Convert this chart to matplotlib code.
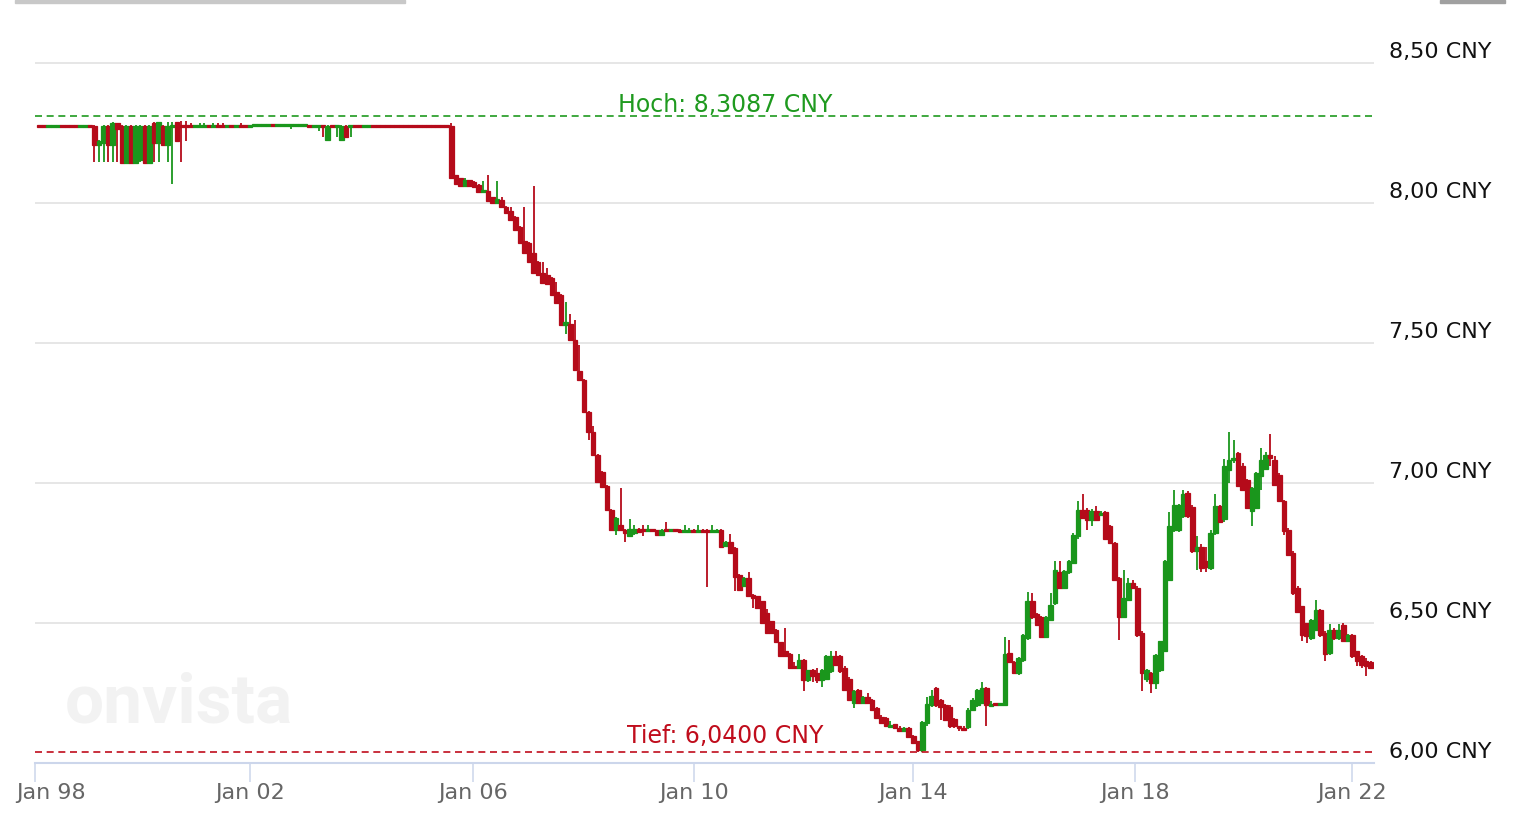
import numpy as np
import matplotlib
matplotlib.use("Agg")
import matplotlib.pyplot as plt
from matplotlib.patches import Rectangle
from matplotlib.transforms import ScaledTranslation

# monthly USD/CNY candles, Jan 1998 .. Apr 2022 (one row per year)
opens = [
    [8.2755, 8.2755, 8.2745, 8.2745, 8.2745, 8.2755, 8.2755, 8.2755, 8.2755, 8.2745, 8.2745, 8.2755],  # 1998
    [8.275, 8.205, 8.214, 8.275, 8.205, 8.284, 8.275, 8.143, 8.275, 8.143, 8.154, 8.275],  # 1999
    [8.143, 8.286, 8.214, 8.275, 8.205, 8.274, 8.289, 8.2755, 8.2755, 8.2755, 8.2745, 8.2745],  # 2000
    [8.2745, 8.2755, 8.2745, 8.2755, 8.2755, 8.2745, 8.2755, 8.2745, 8.2755, 8.2755, 8.2745, 8.275],  # 2001
    [8.275, 8.275, 8.275, 8.28, 8.275, 8.275, 8.275, 8.275, 8.275, 8.275, 8.275, 8.2755],  # 2002
    [8.2745, 8.2745, 8.2755, 8.225, 8.2755, 8.2745, 8.225, 8.275, 8.2745, 8.2755, 8.2755, 8.2745],  # 2003
    [8.2745, 8.2755, 8.2755, 8.2755, 8.2755, 8.2755, 8.2755, 8.2755, 8.2755, 8.2755, 8.2755, 8.2755],  # 2004
    [8.2755, 8.2755, 8.2755, 8.2755, 8.2755, 8.2755, 8.275, 8.10, 8.089, 8.061, 8.08, 8.075],  # 2005
    [8.064, 8.04, 8.043, 8.02, 8.0, 8.01, 7.986, 7.97, 7.95, 7.915, 7.864, 7.857],  # 2006
    [7.82, 7.789, 7.75, 7.743, 7.73, 7.68, 7.671, 7.564, 7.568, 7.511, 7.40, 7.368],  # 2007
    [7.254, 7.182, 7.10, 7.04, 6.99, 6.904, 6.832, 6.85, 6.83, 6.81, 6.82, 6.835],  # 2008
    [6.832, 6.828, 6.832, 6.83, 6.814, 6.832, 6.828, 6.832, 6.832, 6.826, 6.826, 6.832],  # 2009
    [6.826, 6.832, 6.832, 6.826, 6.826, 6.832, 6.773, 6.79, 6.768, 6.671, 6.632, 6.661],  # 2010
    [6.60, 6.594, 6.576, 6.536, 6.505, 6.475, 6.43, 6.40, 6.389, 6.345, 6.34, 6.368],  # 2011
    [6.296, 6.33, 6.322, 6.296, 6.30, 6.326, 6.38, 6.382, 6.34, 6.30, 6.213, 6.26],  # 2012
    [6.214, 6.236, 6.225, 6.196, 6.165, 6.16, 6.13, 6.139, 6.125, 6.112, 6.125, 6.096],  # 2013
    [6.076, 6.046, 6.143, 6.207, 6.268, 6.225, 6.207, 6.2, 6.155, 6.13, 6.125, 6.127],  # 2014
    [6.19, 6.207, 6.214, 6.268, 6.205, 6.21, 6.207, 6.207, 6.393, 6.36, 6.32, 6.368],  # 2015
    [6.445, 6.576, 6.53, 6.522, 6.45, 6.51, 6.57, 6.68, 6.625, 6.68, 6.713, 6.808],  # 2016
    [6.904, 6.904, 6.868, 6.90, 6.885, 6.897, 6.845, 6.785, 6.66, 6.522, 6.582, 6.643],  # 2017
    [6.625, 6.464, 6.30, 6.32, 6.286, 6.332, 6.40, 6.654, 6.832, 6.83, 6.88, 6.964],  # 2018
    [6.915, 6.755, 6.772, 6.72, 6.695, 6.82, 6.918, 6.87, 7.046, 7.08, 7.106, 7.06],  # 2019
    [7.01, 6.90, 6.91, 7.025, 7.05, 7.10, 7.082, 7.029, 6.933, 6.832, 6.749, 6.625],  # 2020
    [6.558, 6.499, 6.445, 6.475, 6.546, 6.463, 6.392, 6.475, 6.445, 6.493, 6.433, 6.457],  # 2021
    [6.398, 6.38, 6.362, 6.36],  # 2022
]
highs = [
    [8.277, 8.277, 8.277, 8.277, 8.277, 8.277, 8.277, 8.277, 8.277, 8.277, 8.277, 8.277],
    [8.277, 8.224, 8.277, 8.277, 8.287, 8.286, 8.277, 8.277, 8.277, 8.277, 8.277, 8.277],
    [8.277, 8.288, 8.29, 8.277, 8.289, 8.289, 8.29, 8.292, 8.292, 8.286, 8.277, 8.286],
    [8.286, 8.277, 8.286, 8.286, 8.286, 8.277, 8.277, 8.277, 8.286, 8.277, 8.277, 8.281],
    [8.281, 8.281, 8.281, 8.281, 8.281, 8.281, 8.281, 8.281, 8.281, 8.281, 8.281, 8.277],
    [8.277, 8.277, 8.277, 8.277, 8.277, 8.277, 8.277, 8.277, 8.277, 8.277, 8.277, 8.277],
    [8.277, 8.277, 8.277, 8.277, 8.277, 8.277, 8.277, 8.277, 8.277, 8.277, 8.277, 8.277],
    [8.277, 8.277, 8.277, 8.277, 8.277, 8.277, 8.283, 8.10, 8.09, 8.089, 8.082, 8.077],
    [8.066, 8.079, 8.10, 8.022, 8.079, 8.02, 7.988, 7.986, 7.952, 7.918, 7.986, 7.86],
    [8.061, 7.792, 7.789, 7.768, 7.733, 7.718, 7.674, 7.646, 7.604, 7.582, 7.493, 7.37],
    [7.256, 7.204, 7.103, 7.043, 6.993, 6.907, 6.877, 6.982, 6.833, 6.87, 6.85, 6.838],
    [6.85, 6.85, 6.834, 6.832, 6.834, 6.86, 6.834, 6.834, 6.834, 6.848, 6.84, 6.834],
    [6.85, 6.834, 6.834, 6.85, 6.834, 6.834, 6.792, 6.818, 6.77, 6.673, 6.663, 6.68],
    [6.602, 6.596, 6.578, 6.55, 6.507, 6.477, 6.432, 6.482, 6.391, 6.36, 6.389, 6.37],
    [6.332, 6.335, 6.34, 6.335, 6.385, 6.40, 6.40, 6.385, 6.345, 6.305, 6.26, 6.265],
    [6.24, 6.25, 6.228, 6.2, 6.17, 6.162, 6.15, 6.14, 6.13, 6.128, 6.128, 6.1],
    [6.078, 6.15, 6.235, 6.26, 6.27, 6.228, 6.21, 6.205, 6.16, 6.132, 6.13, 6.195],
    [6.23, 6.262, 6.29, 6.27, 6.22, 6.212, 6.213, 6.45, 6.44, 6.365, 6.378, 6.46],
    [6.61, 6.605, 6.535, 6.525, 6.525, 6.605, 6.72, 6.72, 6.69, 6.725, 6.82, 6.934],
    [6.96, 6.91, 6.905, 6.918, 6.9, 6.9, 6.85, 6.79, 6.665, 6.69, 6.66, 6.654],
    [6.63, 6.47, 6.335, 6.325, 6.39, 6.435, 6.725, 6.897, 6.975, 6.925, 6.975, 6.97],
    [6.92, 6.808, 6.78, 6.772, 6.83, 6.96, 6.92, 7.085, 7.182, 7.154, 7.11, 7.07],
    [7.015, 6.985, 7.04, 7.125, 7.11, 7.175, 7.096, 7.035, 6.94, 6.84, 6.755, 6.63],
    [6.56, 6.5, 6.515, 6.582, 6.55, 6.47, 6.496, 6.48, 6.496, 6.5, 6.46, 6.46],
    [6.4, 6.385, 6.373, 6.365],
]
lows = [
    [8.273, 8.273, 8.273, 8.273, 8.273, 8.273, 8.273, 8.273, 8.273, 8.273, 8.273, 8.273],
    [8.147, 8.147, 8.147, 8.147, 8.147, 8.147, 8.143, 8.143, 8.143, 8.143, 8.147, 8.143],
    [8.143, 8.147, 8.147, 8.205, 8.147, 8.068, 8.22, 8.147, 8.222, 8.273, 8.273, 8.273],
    [8.273, 8.273, 8.273, 8.273, 8.273, 8.273, 8.273, 8.273, 8.268, 8.273, 8.273, 8.274],
    [8.274, 8.274, 8.274, 8.274, 8.274, 8.274, 8.274, 8.262, 8.274, 8.274, 8.274, 8.273],
    [8.273, 8.257, 8.233, 8.225, 8.273, 8.233, 8.225, 8.233, 8.233, 8.273, 8.273, 8.273],
    [8.273, 8.273, 8.273, 8.273, 8.273, 8.273, 8.273, 8.273, 8.273, 8.273, 8.273, 8.273],
    [8.273, 8.273, 8.273, 8.273, 8.273, 8.273, 8.088, 8.065, 8.058, 8.06, 8.058, 8.055],
    [8.038, 8.035, 8.003, 7.998, 7.998, 7.984, 7.962, 7.936, 7.9, 7.854, 7.818, 7.785],
    [7.746, 7.74, 7.71, 7.706, 7.668, 7.64, 7.56, 7.532, 7.508, 7.4, 7.365, 7.25],
    [7.154, 7.097, 7.0, 6.983, 6.9, 6.828, 6.814, 6.826, 6.79, 6.805, 6.815, 6.822],
    [6.81, 6.826, 6.826, 6.812, 6.81, 6.826, 6.826, 6.826, 6.824, 6.824, 6.824, 6.824],
    [6.824, 6.824, 6.627, 6.824, 6.824, 6.768, 6.77, 6.748, 6.612, 6.615, 6.63, 6.594],
    [6.554, 6.55, 6.497, 6.46, 6.46, 6.427, 6.38, 6.38, 6.338, 6.335, 6.338, 6.255],
    [6.29, 6.29, 6.283, 6.27, 6.295, 6.32, 6.345, 6.32, 6.255, 6.22, 6.196, 6.21],
    [6.21, 6.21, 6.188, 6.155, 6.14, 6.13, 6.125, 6.12, 6.11, 6.11, 6.09, 6.068],
    [6.04, 6.04, 6.13, 6.2, 6.2, 6.154, 6.15, 6.125, 6.125, 6.112, 6.112, 6.12],
    [6.185, 6.2, 6.21, 6.132, 6.2, 6.203, 6.204, 6.205, 6.355, 6.318, 6.315, 6.36],
    [6.44, 6.515, 6.49, 6.445, 6.445, 6.505, 6.565, 6.62, 6.62, 6.675, 6.71, 6.8],
    [6.87, 6.832, 6.846, 6.865, 6.88, 6.795, 6.78, 6.65, 6.44, 6.52, 6.58, 6.62],
    [6.45, 6.255, 6.29, 6.25, 6.264, 6.325, 6.395, 6.65, 6.825, 6.825, 6.875, 6.875],
    [6.75, 6.689, 6.68, 6.68, 6.69, 6.815, 6.855, 6.86, 7.0, 7.07, 6.985, 6.97],
    [6.905, 6.844, 6.905, 6.975, 7.045, 7.058, 6.99, 6.93, 6.814, 6.74, 6.60, 6.535],
    [6.433, 6.427, 6.44, 6.47, 6.45, 6.362, 6.385, 6.44, 6.44, 6.43, 6.43, 6.375],
    [6.344, 6.338, 6.308, 6.335],
]
closes = [
    [8.2745, 8.2745, 8.2755, 8.2755, 8.2755, 8.2745, 8.2745, 8.2745, 8.2745, 8.2755, 8.2755, 8.2745],
    [8.205, 8.222, 8.275, 8.205, 8.285, 8.262, 8.143, 8.275, 8.143, 8.275, 8.275, 8.143],
    [8.275, 8.214, 8.289, 8.205, 8.275, 8.276, 8.222, 8.2745, 8.2745, 8.2745, 8.2755, 8.2755],
    [8.2755, 8.2745, 8.2755, 8.2745, 8.2745, 8.2755, 8.2745, 8.2755, 8.2745, 8.2745, 8.2755, 8.28],
    [8.28, 8.28, 8.28, 8.275, 8.28, 8.28, 8.28, 8.28, 8.28, 8.28, 8.28, 8.2745],
    [8.2755, 8.2755, 8.2745, 8.275, 8.2745, 8.2755, 8.275, 8.233, 8.2755, 8.2745, 8.2745, 8.2755],
    [8.2755, 8.2745, 8.2745, 8.2745, 8.2745, 8.2745, 8.2745, 8.2745, 8.2745, 8.2745, 8.2745, 8.2745],
    [8.2745, 8.2745, 8.2745, 8.2745, 8.2745, 8.2745, 8.09, 8.068, 8.061, 8.08, 8.061, 8.057],
    [8.04, 8.045, 8.005, 8.0, 8.014, 7.986, 7.964, 7.939, 7.904, 7.857, 7.821, 7.789],
    [7.75, 7.743, 7.714, 7.71, 7.671, 7.643, 7.564, 7.575, 7.511, 7.404, 7.368, 7.254],
    [7.182, 7.10, 7.004, 6.986, 6.904, 6.832, 6.874, 6.83, 6.82, 6.835, 6.835, 6.825],
    [6.828, 6.832, 6.828, 6.814, 6.832, 6.828, 6.832, 6.828, 6.826, 6.83, 6.832, 6.826],
    [6.832, 6.826, 6.826, 6.832, 6.832, 6.77, 6.79, 6.75, 6.664, 6.618, 6.661, 6.596],
    [6.59, 6.553, 6.50, 6.464, 6.464, 6.43, 6.382, 6.382, 6.34, 6.34, 6.368, 6.296],
    [6.33, 6.31, 6.296, 6.33, 6.38, 6.38, 6.35, 6.326, 6.26, 6.225, 6.255, 6.214],
    [6.236, 6.214, 6.19, 6.16, 6.143, 6.132, 6.134, 6.125, 6.115, 6.125, 6.092, 6.07],
    [6.046, 6.147, 6.21, 6.24, 6.207, 6.2, 6.154, 6.13, 6.13, 6.125, 6.118, 6.19],
    [6.224, 6.26, 6.268, 6.207, 6.208, 6.207, 6.21, 6.389, 6.36, 6.32, 6.375, 6.457],
    [6.576, 6.52, 6.493, 6.45, 6.522, 6.564, 6.689, 6.625, 6.684, 6.72, 6.814, 6.904],
    [6.874, 6.868, 6.90, 6.868, 6.893, 6.80, 6.785, 6.654, 6.522, 6.59, 6.643, 6.625],
    [6.457, 6.32, 6.332, 6.286, 6.386, 6.433, 6.72, 6.844, 6.921, 6.92, 6.96, 6.88],
    [6.755, 6.772, 6.695, 6.70, 6.822, 6.918, 6.86, 7.06, 7.082, 7.09, 6.99, 6.975],
    [6.91, 6.98, 7.036, 7.08, 7.10, 7.09, 6.993, 6.933, 6.826, 6.743, 6.606, 6.54],
    [6.457, 6.451, 6.51, 6.546, 6.457, 6.39, 6.475, 6.445, 6.475, 6.433, 6.455, 6.38],
    [6.362, 6.35, 6.344, 6.34],
]

xtick_pos = [0, 47, 95.7, 144, 192, 240.4, 288]   # months since Jan 1998, as placed in the picture
xtick_labels = ['Jan 98', 'Jan 02', 'Jan 06', 'Jan 10', 'Jan 14', 'Jan 18', 'Jan 22']
ytick_pos = [6.0, 6.5, 7.0, 7.5, 8.0, 8.5]
ytick_labels = ['6,00 CNY', '6,50 CNY', '7,00 CNY', '7,50 CNY', '8,00 CNY', '8,50 CNY']
high_value = 8.3087
low_value = 6.04

GREEN = '#1a961c'
RED = '#b50b1a'

o = np.concatenate(opens)
h = np.concatenate(highs)
l = np.concatenate(lows)
c = np.concatenate(closes)
t = np.arange(len(o)) + 1

fig = plt.figure(figsize=(15.32, 8.38), dpi=100)
ax = fig.add_axes([35 / 1532, (838 - 762.7) / 838, 1338.5 / 1532, 747.7 / 838])

colors = np.where(c >= o, GREEN, RED)
ax.vlines(t, l, h, colors=colors, linewidth=1.3, zorder=3)
body_low = np.minimum(o, c)
body_h = np.abs(c - o)
minh = 0.007
thin = body_h < minh
body_low = np.where(thin, (o + c) / 2 - minh / 2, body_low)
body_h = np.where(thin, minh, body_h)
ax.bar(t, body_h, bottom=body_low, width=1.0, color=colors, edgecolor=colors,
       linewidth=0.9, zorder=4)

# high / low reference lines
ax.axhline(high_value, color='#1f9a1f', lw=1.2, ls=(0, (4.2, 2.8)), zorder=5)
ax.axhline(low_value, color='#c00d1c', lw=1.2, ls=(0, (4.2, 2.8)), zorder=5)
ax.text(150.8, 8.325, 'Hoch: 8,3087 CNY', color='#1f9a1f', fontsize=17,
        ha='center', va='baseline', zorder=6)
ax.text(150.8, 6.069, 'Tief: 6,0400 CNY', color='#c00d1c', fontsize=17,
        ha='center', va='baseline', zorder=6)

ax.set_xlim(0, 292.6)
ax.set_ylim(6.0, 6.0 + 747.7 / 280)

ax.set_yticks(ytick_pos, ytick_labels)
ax.yaxis.tick_right()
ax.tick_params(axis='y', length=0, pad=11.4, labelsize=16, labelcolor='#111111')
for lbl in ax.get_yticklabels():
    lbl.set_verticalalignment('center')
    lbl.set_transform(lbl.get_transform() + ScaledTranslation(0, 0.107, fig.dpi_scale_trans))

ax.set_xticks(xtick_pos, xtick_labels)
ax.tick_params(axis='x', direction='out', length=13.7, width=1.1, color='#ccd6eb',
               pad=1, labelsize=16, labelcolor='#666666')
first = ax.get_xticklabels()[0]
first.set_transform(first.get_transform() + ScaledTranslation(0.16, 0, fig.dpi_scale_trans))

ax.grid(axis='y', color='#e6e6e6', linewidth=1.4, zorder=0)
ax.set_axisbelow(True)
for s in ['top', 'left', 'right']:
    ax.spines[s].set_visible(False)
ax.spines['bottom'].set_color('#ccd6eb')
ax.spines['bottom'].set_linewidth(1.5)

# watermark
ax.text(65 / 1532, (838 - 722) / 838, 'onvista', transform=fig.transFigure,
        family='Roboto', fontweight='bold', fontsize=50, color='#f2f2f2',
        ha='left', va='baseline', zorder=1)

# bits of the page UI at the top edge
fig.patches.append(Rectangle((15 / 1532, 835 / 838), 390 / 1532, 3 / 838,
                             transform=fig.transFigure, color='#c8c8c8'))
fig.patches.append(Rectangle((1440 / 1532, 835 / 838), 65 / 1532, 3 / 838,
                             transform=fig.transFigure, color='#a0a0a0'))

fig.savefig('out.png', dpi=100)
